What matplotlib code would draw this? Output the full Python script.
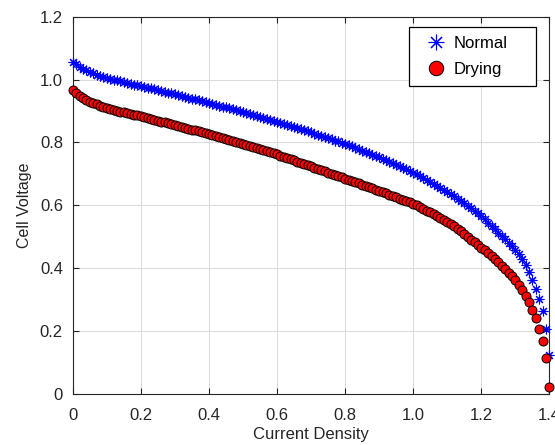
import matplotlib
matplotlib.use('Agg')
import matplotlib.pyplot as plt
from matplotlib.patches import Rectangle

plt.rcParams['font.family'] = ['Liberation Sans', 'DejaVu Sans']

# current density (x) and cell voltage for the two cases
current_density = [
    0.00, 0.01, 0.02, 0.03, 0.04, 0.05, 0.06, 0.07, 0.08, 0.09,
    0.10, 0.11, 0.12, 0.13, 0.14, 0.15, 0.16, 0.17, 0.18, 0.19,
    0.20, 0.21, 0.22, 0.23, 0.24, 0.25, 0.26, 0.27, 0.28, 0.29,
    0.30, 0.31, 0.32, 0.33, 0.34, 0.35, 0.36, 0.37, 0.38, 0.39,
    0.40, 0.41, 0.42, 0.43, 0.44, 0.45, 0.46, 0.47, 0.48, 0.49,
    0.50, 0.51, 0.52, 0.53, 0.54, 0.55, 0.56, 0.57, 0.58, 0.59,
    0.60, 0.61, 0.62, 0.63, 0.64, 0.65, 0.66, 0.67, 0.68, 0.69,
    0.70, 0.71, 0.72, 0.73, 0.74, 0.75, 0.76, 0.77, 0.78, 0.79,
    0.80, 0.81, 0.82, 0.83, 0.84, 0.85, 0.86, 0.87, 0.88, 0.89,
    0.90, 0.91, 0.92, 0.93, 0.94, 0.95, 0.96, 0.97, 0.98, 0.99,
    1.00, 1.01, 1.02, 1.03, 1.04, 1.05, 1.06, 1.07, 1.08, 1.09,
    1.10, 1.11, 1.12, 1.13, 1.14, 1.15, 1.16, 1.17, 1.18, 1.19,
    1.20, 1.21, 1.22, 1.23, 1.24, 1.25, 1.26, 1.27, 1.28, 1.29,
    1.30, 1.31, 1.32, 1.33, 1.34, 1.35, 1.36, 1.37, 1.38, 1.39,
    1.40,
]

v_normal = [
    1.057, 1.048, 1.041, 1.035, 1.029, 1.024, 1.020, 1.016, 1.012, 1.008,
    1.005, 1.002, 0.999, 0.997, 0.994, 0.992, 0.989, 0.987, 0.984, 0.982,
    0.980, 0.977, 0.974, 0.972, 0.969, 0.966, 0.964, 0.961, 0.958, 0.956,
    0.953, 0.950, 0.948, 0.945, 0.942, 0.939, 0.937, 0.934, 0.931, 0.929,
    0.926, 0.923, 0.920, 0.917, 0.914, 0.912, 0.909, 0.906, 0.903, 0.900,
    0.897, 0.894, 0.891, 0.888, 0.885, 0.882, 0.879, 0.876, 0.872, 0.869,
    0.866, 0.863, 0.860, 0.856, 0.853, 0.849, 0.846, 0.843, 0.839, 0.836,
    0.832, 0.828, 0.825, 0.821, 0.817, 0.814, 0.810, 0.806, 0.803, 0.799,
    0.795, 0.791, 0.787, 0.783, 0.779, 0.774, 0.770, 0.766, 0.761, 0.757,
    0.752, 0.747, 0.743, 0.738, 0.733, 0.728, 0.724, 0.719, 0.714, 0.709,
    0.704, 0.698, 0.693, 0.687, 0.681, 0.675, 0.669, 0.662, 0.656, 0.649,
    0.642, 0.635, 0.628, 0.621, 0.613, 0.606, 0.598, 0.590, 0.582, 0.574,
    0.565, 0.555, 0.545, 0.535, 0.524, 0.513, 0.503, 0.492, 0.481, 0.470,
    0.458, 0.444, 0.428, 0.411, 0.387, 0.362, 0.334, 0.302, 0.262, 0.207,
    0.124,
]

v_drying = [
    0.968, 0.956, 0.948, 0.941, 0.935, 0.929, 0.925, 0.921, 0.917, 0.913,
    0.910, 0.907, 0.904, 0.901, 0.898, 0.896, 0.893, 0.891, 0.888, 0.886,
    0.883, 0.880, 0.877, 0.875, 0.872, 0.869, 0.866, 0.864, 0.861, 0.858,
    0.855, 0.852, 0.849, 0.847, 0.844, 0.841, 0.838, 0.835, 0.833, 0.830,
    0.827, 0.824, 0.821, 0.818, 0.815, 0.811, 0.808, 0.805, 0.802, 0.798,
    0.795, 0.792, 0.789, 0.785, 0.782, 0.779, 0.775, 0.772, 0.769, 0.765,
    0.762, 0.758, 0.755, 0.751, 0.747, 0.743, 0.739, 0.736, 0.732, 0.728,
    0.724, 0.720, 0.716, 0.712, 0.708, 0.704, 0.701, 0.697, 0.693, 0.689,
    0.685, 0.681, 0.678, 0.674, 0.670, 0.666, 0.662, 0.658, 0.654, 0.650,
    0.646, 0.642, 0.638, 0.634, 0.629, 0.625, 0.621, 0.617, 0.613, 0.609,
    0.605, 0.600, 0.594, 0.589, 0.583, 0.577, 0.572, 0.566, 0.560, 0.554,
    0.548, 0.541, 0.533, 0.525, 0.517, 0.508, 0.499, 0.490, 0.482, 0.474,
    0.465, 0.457, 0.448, 0.439, 0.429, 0.419, 0.408, 0.397, 0.386, 0.374,
    0.362, 0.347, 0.329, 0.312, 0.291, 0.268, 0.241, 0.207, 0.169, 0.114,
    0.023,
]

x_ticks = [0, 0.2, 0.4, 0.6, 0.8, 1.0, 1.2, 1.4]
x_labels = ['0', '0.2', '0.4', '0.6', '0.8', '1.0', '1.2', '1.4']
y_ticks = [0, 0.2, 0.4, 0.6, 0.8, 1.0, 1.2]
y_labels = ['0', '0.2', '0.4', '0.6', '0.8', '1.0', '1.2']

fig = plt.figure(figsize=(5.55, 4.45), dpi=100)
ax = fig.add_axes([0.131, 0.115, 0.859, 0.8475])

ax.plot(current_density, v_normal, linestyle='none', marker=(8, 2, 0),
        markersize=7, markeredgewidth=0.8, color='#0000ff', label='Normal',
        clip_on=False, zorder=3)
ax.plot(current_density, v_drying, linestyle='none', marker='o',
        markersize=6.5, markerfacecolor='#ff0000', markeredgecolor='black',
        markeredgewidth=0.7, label='Drying', clip_on=False, zorder=3)

ax.set_xlim(0, 1.4)
ax.set_ylim(0, 1.2)
ax.set_xticks(x_ticks)
ax.set_xticklabels(x_labels)
ax.set_yticks(y_ticks)
ax.set_yticklabels(y_labels)
ax.grid(True, color='#dcdcdc', linewidth=0.8)
ax.set_axisbelow(True)

for s in ax.spines.values():
    s.set_color('#262626')
    s.set_linewidth(0.8)
ax.tick_params(direction='in', length=4, width=0.8, colors='#262626',
               labelsize=12, top=True, right=True)
ax.tick_params(axis='x', pad=10)
ax.tick_params(axis='y', pad=7)

ax.set_xlabel('Current Density', fontsize=12, color='#262626', labelpad=3)
ax.set_ylabel('Cell Voltage', fontsize=11.5, color='#262626', labelpad=6)

# the legend box is wider than its content, so draw the frame separately
ax.add_patch(Rectangle((0.7056, 0.817), 0.2665, 0.1565, transform=ax.transAxes,
                       facecolor='white', edgecolor='black', linewidth=0.9,
                       zorder=4.9, clip_on=False))
leg = ax.legend(loc='upper left', bbox_to_anchor=(0.7056, 0.9735),
                borderaxespad=0, fontsize=12, frameon=False,
                borderpad=0.55, handlelength=2.13, handletextpad=0.0,
                labelspacing=0.64, markerscale=1.6)
leg.set_zorder(5)

fig.savefig('out.png', dpi=100)
